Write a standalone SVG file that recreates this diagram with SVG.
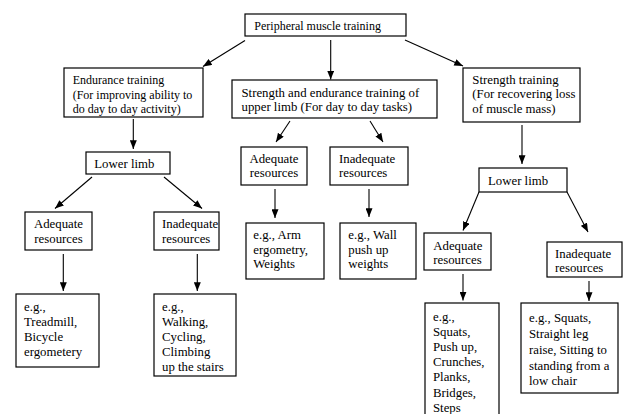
<svg xmlns="http://www.w3.org/2000/svg" width="626" height="414" viewBox="0 0 626 414">
<defs>
<marker id="ah" viewBox="0 0 10 8" refX="10" refY="4" markerWidth="9" markerHeight="7" markerUnits="userSpaceOnUse" orient="auto">
<path d="M0,0 L10,4 L0,8 z" fill="#000"/>
</marker>
</defs>
<style>
rect{fill:#fff;stroke:#000;stroke-width:1.2}
text{font-family:'Liberation Serif','DejaVu Serif',serif;font-size:12.8px;fill:#000}
text.s{font-size:12px}
.c line{stroke:#000;stroke-width:1.1;marker-end:url(#ah)}
</style>
<rect x="0" y="0" width="626" height="414" style="fill:#fff;stroke:none"/>
<g class="c" id="connectors">
<line x1="245" y1="40.5" x2="203" y2="66.5"/>
<line x1="330.7" y1="40" x2="330.7" y2="79.5"/>
<line x1="405" y1="40" x2="463" y2="66"/>
<line x1="133.3" y1="119" x2="133.3" y2="149"/>
<line x1="92" y1="177" x2="55" y2="208.5"/>
<line x1="164" y1="177" x2="202" y2="208.5"/>
<line x1="63.3" y1="254" x2="63.3" y2="291"/>
<line x1="197.3" y1="254" x2="197.3" y2="291"/>
<line x1="290" y1="121" x2="276" y2="142"/>
<line x1="370" y1="121" x2="383" y2="142"/>
<line x1="275" y1="189" x2="275" y2="218"/>
<line x1="369" y1="189" x2="369" y2="217"/>
<line x1="522" y1="125" x2="522" y2="164"/>
<line x1="479" y1="192" x2="463" y2="230.5"/>
<line x1="567" y1="192" x2="588" y2="232"/>
<line x1="463" y1="274" x2="463" y2="300.5"/>
<line x1="589" y1="281" x2="589" y2="301"/>
</g>
<g font-family="Liberation Serif, DejaVu Serif, serif">
<g id="n-top"><rect x="245" y="14" width="161" height="22"/><text class="s" x="254.3" y="29.5">Peripheral muscle training</text></g>
<g id="n-endurance"><rect x="64" y="68" width="139" height="49"/><text class="s" x="72.7" y="84">Endurance training</text><text class="s" x="72.7" y="98.5">(For improving ability to</text><text class="s" x="72.7" y="113">do day to day activity)</text></g>
<g id="n-upper"><rect x="232" y="80" width="205" height="38"/><text x="241.5" y="97">Strength and endurance training of</text><text x="241.5" y="111">upper limb (For day to day tasks)</text></g>
<g id="n-strength"><rect x="463" y="68" width="117" height="54"/><text x="472.3" y="84">Strength training</text><text x="472.3" y="98.3">(For recovering loss</text><text x="472.3" y="112.7">of muscle mass)</text></g>
<g id="n-lower-l"><rect x="86" y="152" width="84" height="22"/><text x="94.3" y="168">Lower limb</text></g>
<g id="n-adeq-l"><rect x="25" y="212" width="67" height="38"/><text x="58.5" y="228.3" text-anchor="middle">Adequate</text><text x="58.5" y="242.7" text-anchor="middle">resources</text></g>
<g id="n-inadeq-l"><rect x="154" y="212" width="65" height="38"/><text x="162" y="228.3">Inadequate</text><text x="162" y="242.7">resources</text></g>
<g id="n-eg-l1"><rect x="16" y="294" width="83" height="73"/><text x="24" y="311">e.g.,</text><text x="24" y="326">Treadmill,</text><text x="24" y="341">Bicycle</text><text x="24" y="356">ergometery</text></g>
<g id="n-eg-l2"><rect x="154" y="294" width="82" height="82"/><text x="162" y="311">e.g.,</text><text x="162" y="326">Walking,</text><text x="162" y="341">Cycling,</text><text x="162" y="356">Climbing</text><text x="162" y="371">up the stairs</text></g>
<g id="n-adeq-m"><rect x="241" y="147" width="66" height="38"/><text x="274" y="162.7" text-anchor="middle">Adequate</text><text x="274" y="177.3" text-anchor="middle">resources</text></g>
<g id="n-inadeq-m"><rect x="330" y="147" width="78" height="38"/><text x="339" y="163">Inadequate</text><text x="339" y="177.3">resources</text></g>
<g id="n-eg-arm"><rect x="246" y="223" width="78" height="56"/><text x="253.3" y="239.3">e.g., Arm</text><text x="253.3" y="254">ergometry,</text><text x="253.3" y="268.3">Weights</text></g>
<g id="n-eg-wall"><rect x="340" y="223" width="76" height="56"/><text x="348.3" y="239.3">e.g., Wall</text><text x="348.3" y="254">push up</text><text x="348.3" y="268.3">weights</text></g>
<g id="n-lower-r"><rect x="479" y="168" width="88" height="24"/><text x="488" y="185">Lower limb</text></g>
<g id="n-adeq-r"><rect x="424" y="233" width="67" height="37"/><text x="433.3" y="250">Adequate</text><text x="433.3" y="264">resources</text></g>
<g id="n-inadeq-r"><rect x="547" y="242" width="75" height="35"/><text x="555" y="257.5">Inadequate</text><text x="555" y="271.5">resources</text></g>
<g id="n-eg-r1"><rect x="425" y="303" width="74" height="120"/><text x="433" y="320.5">e.g.,</text><text x="433" y="335.7">Squats,</text><text x="433" y="350.9">Push up,</text><text x="433" y="366.1">Crunches,</text><text x="433" y="381.3">Planks,</text><text x="433" y="396.5">Bridges,</text><text x="433" y="411.7">Steps</text></g>
<g id="n-eg-r2"><rect x="521" y="303" width="97" height="90"/><text x="529" y="321.5">e.g., Squats,</text><text x="529" y="337.5">Straight leg</text><text x="529" y="353.5">raise, Sitting to</text><text x="529" y="369.5">standing from a</text><text x="529" y="385">low chair</text></g>
</g>
</svg>
